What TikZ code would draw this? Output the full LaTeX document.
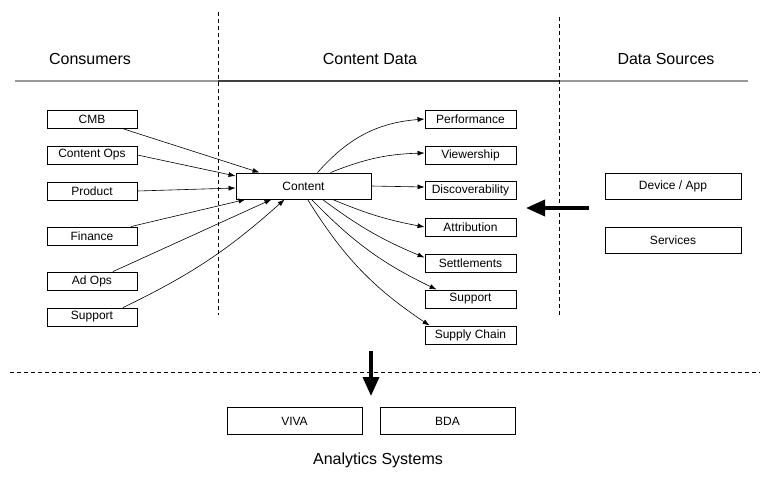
\documentclass[tikz,border=0pt]{standalone}
\usepackage{fontspec}
\setmainfont{Liberation Sans}
\usetikzlibrary{arrows.meta,calc}
\begin{document}
\begin{tikzpicture}[x=1pt,y=-1pt,
  box/.style={draw,line width=0.9pt,inner sep=0pt,font=\fontsize{12}{14}\selectfont},
  lbox/.style={box,minimum width=90pt,minimum height=18pt},
  rbox/.style={box,minimum width=91pt,minimum height=18pt},
  wbox/.style={box,minimum width=135pt,minimum height=26pt},
  title/.style={font=\fontsize{16}{19}\selectfont},
  link/.style={line width=0.6pt,-{Latex[length=7pt,width=5pt]}},
  bigarrow/.style={line width=3.6pt,-{Triangle[length=19pt,width=16pt]}},
  divider/.style={line width=0.6pt,dash pattern=on 4pt off 3pt}]
\useasboundingbox (0,0) rectangle (769,482);

% section titles and rules
\node[title] (tcons) at (90,59) {Consumers};
\node[title] (tcont) at (370,59) {Content Data};
\node[title] (tsrc) at (666,59) {Data Sources};
\draw[line width=1.2pt,black!40] (15,81) -- (218,81);
\draw[line width=1.2pt,black!75] (218,81) -- (559,81);
\draw[line width=1.2pt,black!40] (559,81) -- (748,81);
\draw[divider] (218,12) -- (218,315);
\draw[divider] (559,17) -- (559,316);
\draw[divider] (10,372) -- (760,372);

% consumers
\node[lbox] (cmb) at (92,119) {CMB};
\node[lbox] (cops) at (92,155) {Content Ops};
\node[lbox] (prod) at (92,191) {Product};
\node[lbox] (fin) at (92,236) {Finance};
\node[lbox] (adops) at (92,281) {Ad Ops};
\node[lbox] (lsup) at (92,317) {Support};

% central content node
\node[wbox] (content) at (303.5,186) {Content};

% content data
\node[rbox] (perf) at (470.5,119) {Performance};
\node[rbox] (view) at (470.5,155) {Viewership};
\node[rbox] (disc) at (470.5,190) {Discoverability};
\node[rbox] (attr) at (470.5,227) {Attribution};
\node[rbox] (sett) at (470.5,263) {Settlements};
\node[rbox] (rsup) at (470.5,299) {Support};
\node[rbox] (supc) at (470.5,335) {Supply Chain};

% data sources
\node[box,minimum width=136pt,minimum height=26pt] (dev) at (673,186) {Device / App};
\node[box,minimum width=136pt,minimum height=26pt] (serv) at (673,240) {Services};

% analytics systems
\node[wbox,minimum height=27pt] (viva) at (294.5,421) {VIVA};
\node[wbox,minimum height=27pt] (bda) at (447.5,421) {BDA};
\node[title] (tana) at (378,460) {Analytics Systems};

% consumers feeding content
\draw[link] ($(cmb.south)+(30,0)$) -- ($(content.north west)+(24,0)$);
\draw[link] (cops.east) -- ($(content.west)+(0,-10)$);
\draw[link] (prod.east) -- ($(content.west)+(0,2)$);
\draw[link] ($(fin.north)+(39,0)$) -- ($(content.south west)+(10,0)$);
\draw[link] ($(adops.north)+(21,0)$) -- ($(content.south west)+(36,0)$);
\draw[link] ($(lsup.north)+(31,0)$) to[bend right=8] ($(content.south west)+(49,0)$);

% content fanning out
\draw[link] ($(content.north west)+(82,0)$) to[bend left=22] (perf.west);
\draw[link] ($(content.north west)+(95,0)$) to[bend left=10] ($(view.west)+(0,-2)$);
\draw[link] (content.east) -- ($(disc.west)+(0,-3)$);
\draw[link] ($(content.south west)+(97,0)$) to[bend right=6] (attr.west);
\draw[link] ($(content.south west)+(87,0)$) to[bend right=7] ($(sett.north west)+(0,4)$);
\draw[link] ($(content.south west)+(76,0)$) to[bend right=10] ($(rsup.north west)+(12,0)$);
\draw[link] ($(content.south west)+(72,0)$) to[bend right=12] ($(supc.north west)+(5,0)$);

% flow between sections
\coordinate (srcfrom) at (589,208);
\coordinate (srcto) at (526,208);
\draw[bigarrow] (srcfrom) -- (srcto);
\coordinate (anafrom) at (371,351);
\coordinate (anato) at (371,396);
\draw[bigarrow] (anafrom) -- (anato);
\end{tikzpicture}
\end{document}
